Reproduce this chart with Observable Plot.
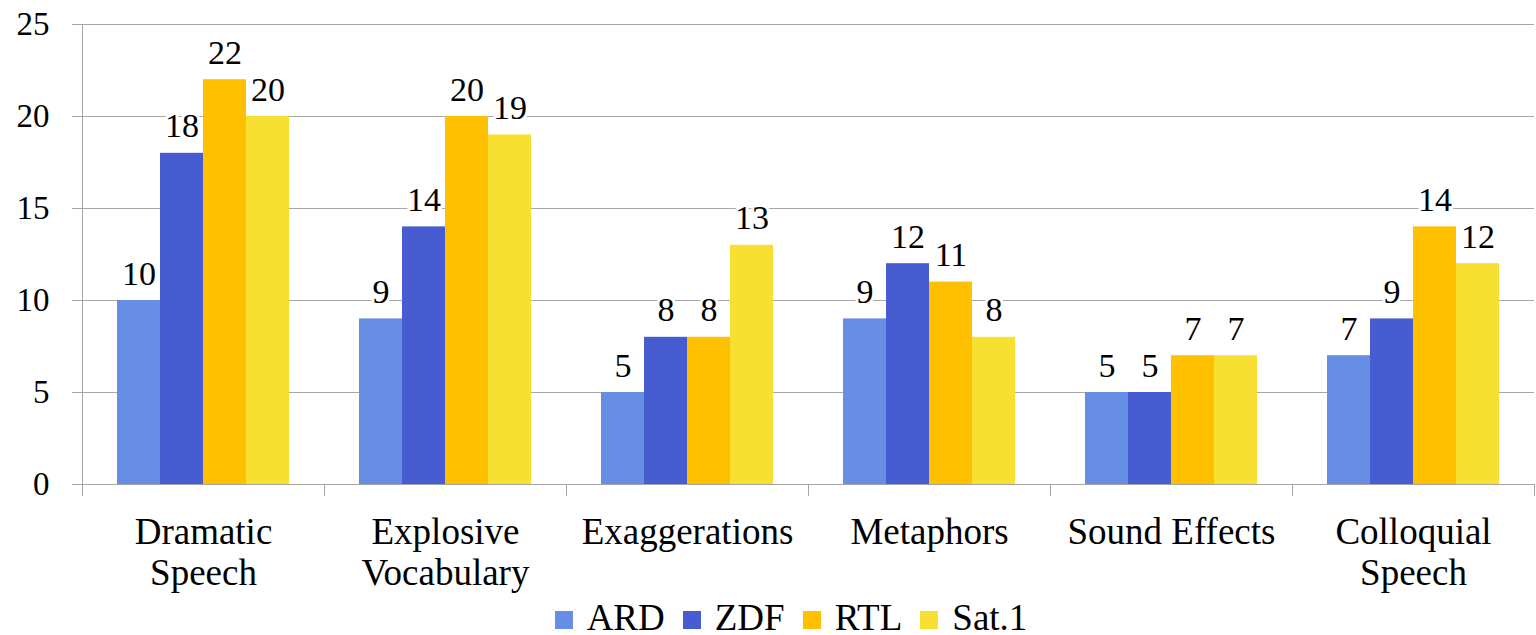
<!DOCTYPE html>
<html>
<head>
<meta charset="utf-8">
<script src="https://cdn.jsdelivr.net/npm/d3@7"></script>
<script src="https://cdn.jsdelivr.net/npm/@observablehq/plot@0.6"></script>
<style>
  html, body { margin: 0; padding: 0; background: #fff; }
  body { width: 1536px; height: 635px; overflow: hidden; font-family: "Liberation Serif", Tinos, "Times New Roman", "DejaVu Serif", serif; }
  svg text { font-family: "Liberation Serif", Tinos, "Times New Roman", "DejaVu Serif", serif; }
  #legend { display: flex; justify-content: center; align-items: center; height: 35px; line-height: 35px; font-size: 37px; color: #000; padding-left: 46px; }
  .item { display: flex; align-items: center; margin-right: 18px; }
  .item:last-child { margin-right: 0; }
  .sw { width: 18px; height: 18px; margin-right: 14px; margin-top: 4px; }
</style>
</head>
<body>
<div id="chart"></div>
<div id="legend"></div>
<script>
const categories = ["Dramatic\nSpeech", "Explosive\nVocabulary", "Exaggerations", "Metaphors", "Sound Effects", "Colloquial\nSpeech"];
const series = ["ARD", "ZDF", "RTL", "Sat.1"];
const ARD  = [10, 9, 5, 9, 5, 7];
const ZDF  = [18, 14, 8, 12, 5, 9];
const RTL  = [22, 20, 8, 11, 7, 14];
const SAT1 = [20, 19, 13, 8, 7, 12];
const colors = ["#678ee5", "#465cd0", "#ffc000", "#f7e032"];
const yTicks = [0, 5, 10, 15, 20, 25];

const valuesBySeries = [ARD, ZDF, RTL, SAT1];
const rows = [];
categories.forEach((c, i) => {
  series.forEach((s, j) => rows.push({category: c, series: s, value: valuesBySeries[j][i]}));
});

const grid = "#a6a6a6";
const serif = "'Liberation Serif', Tinos, 'Times New Roman', 'DejaVu Serif', serif";

const chart = Plot.plot({
  width: 1536,
  height: 600,
  marginLeft: 80,
  marginRight: 0,
  marginTop: 24,
  marginBottom: 116,
  style: {fontFamily: serif, fontSize: "33px", color: "#000", background: "#fff"},
  fx: {domain: categories, padding: 0},
  x: {domain: series, paddingInner: 0, paddingOuter: 0.77, axis: null},
  y: {domain: [0, 25]},
  color: {domain: series, range: colors},
  marks: [
    Plot.gridY(yTicks, {stroke: grid, strokeOpacity: 1}),
    Plot.barY(rows, {fx: "category", x: "series", y: "value", fill: "series", inset: 0}),
    Plot.text(rows, {fx: "category", x: "series", y: "value", text: d => String(d.value), lineAnchor: "bottom", dy: -16, fontSize: 34, fill: "#000", stroke: "white", strokeWidth: 6, paintOrder: "stroke"}),
    Plot.axisY(yTicks, {tickSize: 10, tickPadding: 23, stroke: grid, fontSize: 33, label: null, tickFormat: d => String(d)}),
    Plot.axisFx({anchor: "bottom", tickSize: 0, tickPadding: 30, fontSize: 37, lineHeight: 1.11, label: null})
  ]
});

document.getElementById("chart").appendChild(chart);

// separators and the vertical axis line, placed through Plot's own scales
const fx = chart.scale("fx");
const ys = chart.scale("y");
const y0 = ys.apply(0), yTop = ys.apply(25);
const edges = categories.map(c => fx.apply(c)).concat([fx.apply(categories[categories.length - 1]) + fx.bandwidth]);
const g = d3.select(chart).append("g").attr("stroke", grid).attr("stroke-width", 1);
edges.forEach((x, i) => {
  const xx = Math.min(Math.round(x), 1535) + 0.5;
  g.append("line").attr("x1", xx).attr("x2", xx).attr("y1", i === 0 ? yTop : y0).attr("y2", y0 + 12);
});

const legend = document.getElementById("legend");
series.forEach((s, j) => {
  const it = document.createElement("div");
  it.className = "item";
  const sw = document.createElement("div");
  sw.className = "sw";
  sw.style.background = colors[j];
  const t = document.createElement("span");
  t.textContent = s;
  it.appendChild(sw); it.appendChild(t);
  legend.appendChild(it);
});
</script>
</body>
</html>
